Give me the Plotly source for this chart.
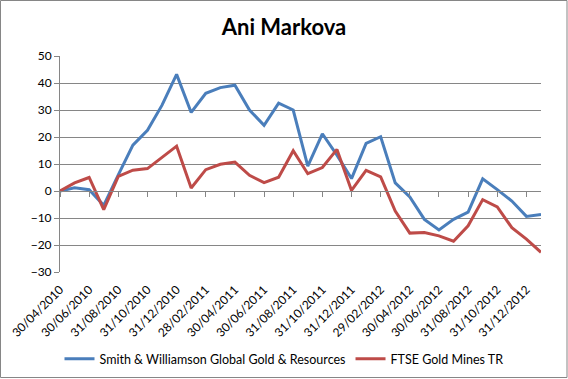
import plotly.graph_objects as go

dates = [
    "30/04/2010", "31/05/2010", "30/06/2010", "31/07/2010", "31/08/2010", "30/09/2010",
    "31/10/2010", "30/11/2010", "31/12/2010", "31/01/2011", "28/02/2011", "31/03/2011",
    "30/04/2011", "31/05/2011", "30/06/2011", "31/07/2011", "31/08/2011", "30/09/2011",
    "31/10/2011", "30/11/2011", "31/12/2011", "31/01/2012", "29/02/2012", "31/03/2012",
    "30/04/2012", "31/05/2012", "30/06/2012", "31/07/2012", "31/08/2012", "30/09/2012",
    "31/10/2012", "30/11/2012", "31/12/2012", "31/01/2013",
]

smith = [0, 1.2, 0.5, -5.3, 6.0, 17.0, 22.5, 31.8, 43.2, 29.1, 36.2, 38.3,
         39.2, 30.0, 24.3, 32.5, 30.0, 9.2, 21.2, 13.3, 4.6, 17.6, 20.1, 3.0,
         -2.2, -10.5, -14.4, -10.5, -7.8, 4.5, 0.5, -3.7, -9.4, -8.7]

ftse = [0, 3.0, 5.0, -6.9, 5.4, 7.7, 8.3, 12.4, 16.6, 1.1, 7.9, 9.9,
        10.7, 5.8, 3.1, 5.1, 14.9, 6.4, 8.7, 15.4, 0.2, 7.6, 5.2, -7.4,
        -15.6, -15.4, -16.6, -18.6, -12.9, -3.2, -5.9, -13.6, -17.8, -22.7]

series_names = ["Smith & Williamson Global Gold & Resources", "FTSE Gold Mines TR"]
y_ticks = [-30, -20, -10, 0, 10, 20, 30, 40, 50]
label_dates = dates[::2]

BLUE = "#4A7EBB"
RED = "#BE4B48"
GRID = "#868686"
FONT = "Lato"

fig = go.Figure()
fig.add_trace(go.Scatter(x=dates, y=smith, name=series_names[0], mode="lines",
                         line=dict(color=BLUE, width=3), hoverinfo="x+y"))
fig.add_trace(go.Scatter(x=dates, y=ftse, name=series_names[1], mode="lines",
                         line=dict(color=RED, width=3), hoverinfo="x+y"))
# invisible trace to carry the tick marks axis that sits on the zero line
fig.add_trace(go.Scatter(x=dates, y=smith, mode="lines", opacity=0,
                         line=dict(width=0), showlegend=False, hoverinfo="skip",
                         xaxis="x2"))

ymin, ymax = -30, 50
zero_pos = (0 - ymin) / (ymax - ymin)

fig.update_layout(
    width=568, height=379,
    margin=dict(l=60, r=27, t=56, b=107, autoexpand=False),
    paper_bgcolor="white", plot_bgcolor="white",
    font=dict(family=FONT, size=12, color="black"),
    title=dict(text="<b>Ani Markova</b>", x=0.5, xref="container", xanchor="center",
               y=1 - 27 / 379, yref="container", yanchor="middle",
               font=dict(family=FONT, size=22, color="black")),
    showlegend=True,
    legend=dict(orientation="h", xref="container", yref="container",
                x=0.5, xanchor="center", y=1 - 359 / 379, yanchor="middle",
                font=dict(family=FONT, size=12.5, color="black"),
                bgcolor="rgba(0,0,0,0)"),
    xaxis=dict(type="category", categoryorder="array", categoryarray=dates,
               range=[0, len(dates) - 1], automargin=False,
               tickmode="array", tickvals=label_dates, ticktext=label_dates,
               tickangle=-45, ticks="outside", ticklen=5, tickcolor="white",
               showgrid=False, showline=False,
               zeroline=False, tickfont=dict(family=FONT, size=12)),
    xaxis2=dict(type="category", categoryorder="array", categoryarray=dates,
                range=[0, len(dates) - 1], overlaying="x", anchor="free",
                position=zero_pos, side="bottom", automargin=False,
                tickmode="array", tickvals=label_dates, showticklabels=False,
                ticks="outside", ticklen=5, tickcolor=GRID, tickwidth=1,
                showline=True, linecolor=GRID, linewidth=1,
                showgrid=False, zeroline=False),
    yaxis=dict(range=[ymin, ymax], tickmode="array", tickvals=y_ticks,
               automargin=False,
               showgrid=True, gridcolor=GRID, gridwidth=1,
               zeroline=False, showline=True, linecolor=GRID, linewidth=1,
               ticks="outside", ticklen=5, tickcolor=GRID,
               tickfont=dict(family=FONT, size=12)),
)

# outer chart border
fig.add_shape(type="rect", xref="paper", yref="paper",
              x0=-59.5 / 481, x1=507 / 481, y0=-105.5 / 216, y1=271.5 / 216,
              line=dict(color=GRID, width=1), fillcolor="rgba(0,0,0,0)", layer="below")

fig.write_html("out.html", config={"displayModeBar": False},
               post_script="document.body.style.margin='0';document.body.style.overflow='hidden';")
